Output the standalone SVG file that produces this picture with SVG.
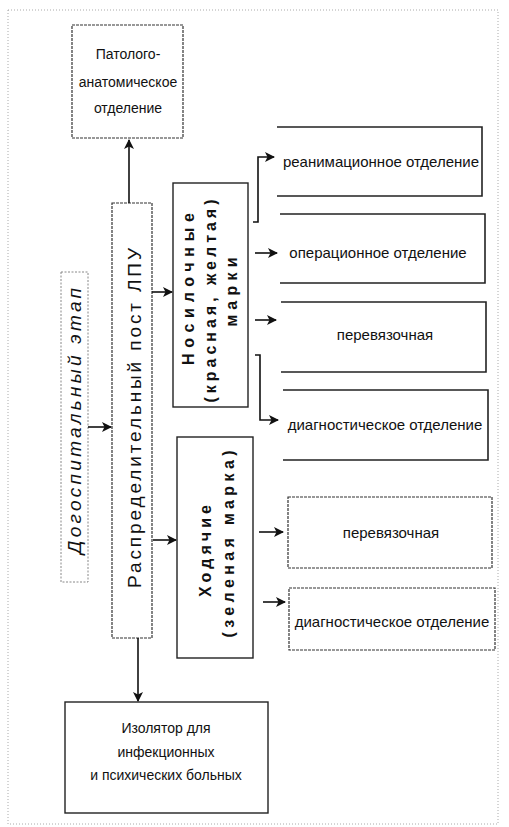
<svg xmlns="http://www.w3.org/2000/svg" width="509" height="827" viewBox="0 0 509 827">
<defs>
<marker id="ah" viewBox="0 0 10 10" refX="9" refY="5" markerWidth="10" markerHeight="10" markerUnits="userSpaceOnUse" orient="auto">
<path d="M0,0 L10,5 L0,10 L2.5,5 z" fill="#111"/>
</marker>
<style>
.bx{fill:#fff;stroke:#222;stroke-width:1.4}
.bd{fill:#fff;stroke:#333;stroke-width:1.2;stroke-dasharray:3 1}
.ob{fill:none;stroke:#222;stroke-width:1.6}
.t{font-family:"Liberation Sans",Arial,sans-serif;font-size:15px;fill:#111;text-anchor:middle}
.s{font-size:14px}
.rb{font-family:"Liberation Sans",Arial,sans-serif;font-size:16px;font-weight:bold;fill:#111;text-anchor:middle;dominant-baseline:central}
.cn{fill:none;stroke:#111;stroke-width:1.6}
</style>
</defs>
<rect x="8" y="10" width="490" height="814" fill="#fff" stroke="#aaa" stroke-width="1" stroke-dasharray="1 2"/>

<g id="patolog">
<rect class="bd" x="72" y="25" width="111" height="113"/>
<text class="t s" x="128" y="59">Патолого-</text>
<text class="t s" x="128" y="87">анатомическое</text>
<text class="t s" x="128" y="113">отделение</text>
</g>

<g id="dogosp">
<rect x="61" y="272" width="27" height="310" fill="#fff" stroke="#888" stroke-width="1" stroke-dasharray="2 1.5"/>
<text transform="translate(74,421) rotate(-90)" font-family="Liberation Sans,Arial,sans-serif" font-size="19" font-style="italic" fill="#111" text-anchor="middle" dominant-baseline="central" textLength="266" lengthAdjust="spacing">Догоспитальный этап</text>
</g>

<g id="post">
<rect class="bd" x="112" y="203" width="40" height="435"/>
<text transform="translate(134,418) rotate(-90)" font-family="Liberation Sans,Arial,sans-serif" font-size="19" fill="#111" text-anchor="middle" dominant-baseline="central" textLength="340" lengthAdjust="spacing">Распределительный пост ЛПУ</text>
</g>

<g id="nosil">
<rect class="bx" x="173" y="183" width="75" height="224"/>
<text class="rb" transform="translate(188,289) rotate(-90)" textLength="152" lengthAdjust="spacing">Носилочные</text>
<text class="rb" transform="translate(210,301) rotate(-90)" textLength="203" lengthAdjust="spacing">(красная, желтая)</text>
<text class="rb" transform="translate(231,292) rotate(-90)" textLength="69" lengthAdjust="spacing">марки</text>
</g>

<g id="hod">
<rect class="bx" x="177" y="437" width="76" height="221"/>
<text class="rb" transform="translate(205,551) rotate(-90)" textLength="92" lengthAdjust="spacing">Ходячие</text>
<text class="rb" transform="translate(228,544) rotate(-90)" textLength="187" lengthAdjust="spacing">(зеленая марка)</text>
</g>

<g id="reanim">
<path class="ob" d="M277,127 H482 V196 H277"/>
<text class="t" x="381" y="167">реанимационное отделение</text>
</g>
<g id="oper">
<path class="ob" d="M280,214 H485 V283 H280"/>
<text class="t" x="378" y="258">операционное отделение</text>
</g>
<g id="perev1">
<path class="ob" d="M281,302 H486 V372 H281"/>
<text class="t" x="385" y="340">перевязочная</text>
</g>
<g id="diag1">
<path class="ob" d="M283,390 H488 V460 H283"/>
<text class="t" x="385" y="430">диагностическое отделение</text>
</g>
<g id="perev2">
<rect class="bd" x="288" y="497" width="204" height="71"/>
<text class="t" x="391" y="538">перевязочная</text>
</g>
<g id="diag2">
<rect class="bd" x="289" y="588" width="206" height="62"/>
<text class="t" x="392" y="627">диагностическое отделение</text>
</g>

<g id="izol">
<rect class="bx" x="65" y="702" width="203" height="111"/>
<text class="t s" x="166" y="733">Изолятор для</text>
<text class="t s" x="166" y="757">инфекционных</text>
<text class="t s" x="166" y="780">и психических больных</text>
</g>

<g id="connectors">
<path class="cn" d="M129,203 V140" marker-end="url(#ah)"/>
<path class="cn" d="M138,638 V701" marker-end="url(#ah)"/>
<path class="cn" d="M88,427 H111" marker-end="url(#ah)"/>
<path class="cn" d="M152,292 H172" marker-end="url(#ah)"/>
<path class="cn" d="M153,540 H176" marker-end="url(#ah)"/>
<path class="cn" d="M253,222 H258 V157 H274" marker-end="url(#ah)"/>
<path class="cn" d="M255,253 H277" marker-end="url(#ah)"/>
<path class="cn" d="M255,320 H276" marker-end="url(#ah)"/>
<path class="cn" d="M255,355 H260 V420 H278" marker-end="url(#ah)"/>
<path class="cn" d="M259,532 H283" marker-end="url(#ah)"/>
<path class="cn" d="M263,602 H285" marker-end="url(#ah)"/>
</g>
</svg>
